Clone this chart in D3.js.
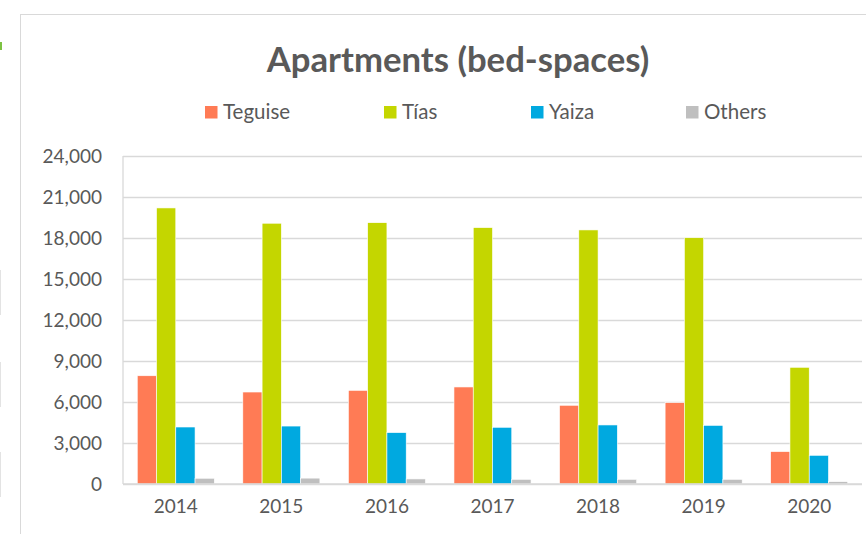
<!DOCTYPE html>
<html>
<head>
<meta charset="utf-8">
<script src="https://cdn.jsdelivr.net/npm/d3@7"></script>
<style>
  html, body { margin: 0; padding: 0; background: #fff; }
  svg { display: block; font-family: Lato, "Open Sans", sans-serif; }
</style>
</head>
<body>
<div id="chart"></div>
<script>
// Data
const years = ["2014", "2015", "2016", "2017", "2018", "2019", "2020"];
const seriesNames = ["Teguise", "Tías", "Yaiza", "Others"];
const teguise = [7920, 6730, 6850, 7100, 5760, 5950, 2370];
const tias = [20200, 19080, 19120, 18760, 18590, 18020, 8540];
const yaiza = [4170, 4240, 3760, 4150, 4320, 4290, 2100];
const others = [420, 430, 370, 340, 340, 340, 170];
const yTicks = [0, 3000, 6000, 9000, 12000, 15000, 18000, 21000, 24000];

const colours = ["#ff7b55", "#c4d600", "#00a9e0", "#bfbfbf"];
const textColour = "#595959";
const lineColour = "#d9d9d9";

const width = 866, height = 534;
const margin = {top: 156, right: 4, bottom: 50, left: 123};

const svg = d3.select("#chart")
  .append("svg")
  .attr("width", width)
  .attr("height", height);

// outer chart frame (runs off the right and bottom of the picture)
svg.append("rect")
  .attr("x", 20.5)
  .attr("y", 14.5)
  .attr("width", 870)
  .attr("height", 540)
  .attr("fill", "none")
  .attr("stroke", lineColour);

// small bits of the page showing on the left edge
svg.append("rect").attr("x", 0).attr("y", 42).attr("width", 2).attr("height", 8).attr("fill", "#7dc242");
[[270, 315], [362, 407], [452, 497]].forEach(([a, b]) => {
  svg.append("rect").attr("x", 0).attr("y", a).attr("width", 1).attr("height", b - a).attr("fill", "#e3e3e3");
});

const rows = years.map((y, i) => ({
  year: y,
  values: [teguise[i], tias[i], yaiza[i], others[i]]
}));

const x0 = d3.scaleBand()
  .domain(years)
  .range([margin.left, width - margin.right])
  .paddingInner(0)
  .paddingOuter(0);

const x1 = d3.scaleBand()
  .domain(seriesNames)
  .range([0, x0.bandwidth()])
  .paddingInner(0)
  .paddingOuter(0.74);

const y = d3.scaleLinear()
  .domain([0, 24000])
  .range([height - margin.bottom, margin.top]);

// gridlines + y labels
const yAxis = svg.append("g")
  .attr("transform", `translate(${margin.left},0)`)
  .call(d3.axisLeft(y)
    .tickValues(yTicks)
    .tickSize(-(width - margin.right - margin.left))
    .tickPadding(21)
    .tickFormat(d3.format(",")));

yAxis.select(".domain").remove();
yAxis.selectAll(".tick line")
  .attr("stroke", lineColour)
  .attr("stroke-width", 1.3);
yAxis.selectAll(".tick text")
  .attr("fill", textColour)
  .attr("font-size", 19)
  .attr("font-family", "Lato, sans-serif");

// left axis line
svg.append("line")
  .attr("x1", margin.left).attr("x2", margin.left)
  .attr("y1", y(24000)).attr("y2", y(0))
  .attr("stroke", lineColour)
  .attr("stroke-width", 1.3);

// bars
const groups = svg.append("g")
  .selectAll("g")
  .data(rows)
  .join("g")
  .attr("transform", d => `translate(${x0(d.year)},0)`);

groups.selectAll("rect")
  .data(d => d.values.map((v, i) => ({key: seriesNames[i], value: v, i})))
  .join("rect")
  .attr("x", d => x1(d.key))
  .attr("y", d => y(d.value))
  .attr("width", x1.bandwidth())
  .attr("height", d => y(0) - y(d.value))
  .attr("fill", d => colours[d.i])
  .attr("stroke", "#fff")
  .attr("stroke-width", 0.6);

// x axis baseline + labels
svg.append("line")
  .attr("x1", margin.left).attr("x2", width - margin.right)
  .attr("y1", y(0)).attr("y2", y(0))
  .attr("stroke", lineColour)
  .attr("stroke-width", 1.3);

const xAxis = svg.append("g")
  .attr("transform", `translate(0,${y(0)})`)
  .call(d3.axisBottom(x0).tickSize(0).tickPadding(16));
xAxis.select(".domain").remove();
xAxis.selectAll(".tick text")
  .attr("fill", textColour)
  .attr("font-size", 19)
  .attr("font-family", "Lato, sans-serif");

// title
svg.append("text")
  .attr("x", 458)
  .attr("y", 72)
  .attr("text-anchor", "middle")
  .attr("fill", textColour)
  .attr("font-size", 34.7)
  .attr("font-weight", "bold")
  .text("Apartments (bed-spaces)");

// legend
const legendX = [205, 384, 531, 686];
const legend = svg.append("g")
  .selectAll("g")
  .data(seriesNames)
  .join("g")
  .attr("transform", (d, i) => `translate(${legendX[i]},106)`);

legend.append("rect")
  .attr("width", 12.5)
  .attr("height", 12.5)
  .attr("fill", (d, i) => colours[i]);

legend.append("text")
  .attr("x", 18)
  .attr("y", 13)
  .attr("fill", textColour)
  .attr("font-size", 20.5)
  .text(d => d);
</script>
</body>
</html>
